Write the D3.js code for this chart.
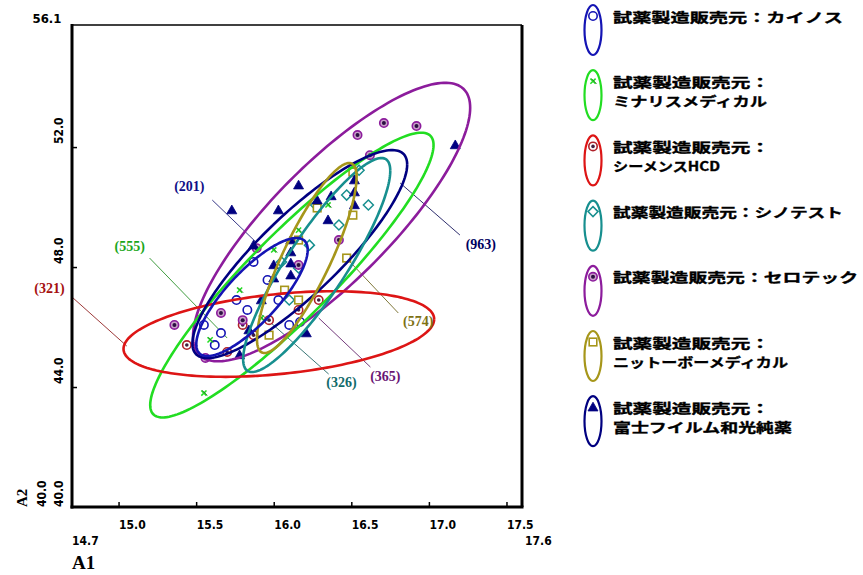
<!DOCTYPE html>
<html>
<head>
<meta charset="utf-8">
<script src="https://cdn.jsdelivr.net/npm/d3@7"></script>
<style>
  html, body { margin: 0; padding: 0; background: #fff; }
  svg { display: block; }
</style>
</head>
<body>
<svg id="chart" width="863" height="575"></svg>
<script>
// ---- data ---------------------------------------------------------------
const makers = ["カイノス", "ミナリスメディカル", "シーメンスHCD", "シノテスト", "セロテック", "ニットーボーメディカル", "富士フイルム和光純薬"];
const counts = [201, 555, 321, 326, 365, 574, 963];

// per-maker scatter values (A1, A2)
const a1Kainos   = [15.55, 15.66, 16.10, 16.17, 15.83, 15.96, 15.87, 15.62, 15.76, 16.03];
const a2Kainos   = [46.07, 45.80, 46.07, 46.17, 46.57, 47.57, 48.17, 45.40, 46.90, 46.90];
const a1Minaris  = [15.55, 15.78, 16.16, 16.00, 15.92, 16.35, 15.59];
const a2Minaris  = [43.80, 47.23, 49.23, 48.57, 46.30, 50.07, 45.57];
const a1Siemens  = [15.87, 15.70, 16.16, 15.97, 15.80, 16.29, 15.44];
const a2Siemens  = [45.73, 45.17, 46.57, 46.23, 46.07, 46.90, 45.40];
const a1Shino    = [16.42, 16.27, 16.61, 16.47, 16.16, 16.05, 16.10, 16.55, 16.23];
const a2Shino    = [49.40, 50.07, 50.07, 50.40, 47.97, 48.17, 46.90, 51.23, 48.73];
const a1Serotec  = [16.71, 16.92, 16.54, 15.36, 15.80, 15.66, 15.89, 16.42, 16.16, 15.56, 16.62];
const a2Serotec  = [52.80, 52.70, 52.40, 46.07, 46.23, 46.47, 48.63, 48.90, 48.07, 44.97, 51.73];
const a1Nittobo  = [16.51, 16.47, 16.16, 16.28, 16.07, 16.16, 16.51, 15.97];
const a2Nittobo  = [51.17, 48.30, 48.90, 49.97, 47.23, 46.90, 49.73, 45.73];
const a1Fuji     = [17.17, 15.73, 16.28, 16.37, 16.52, 16.52, 16.52, 16.11, 16.11, 16.11, 16.11, 16.00, 16.00, 15.92, 16.21, 15.78, 16.35, 16.16, 15.84, 15.87, 16.03];
const a2Fuji     = [52.07, 49.90, 50.23, 50.37, 50.90, 50.50, 50.07, 48.90, 48.50, 48.13, 47.73, 48.07, 47.63, 46.90, 45.80, 45.07, 49.57, 50.73, 45.90, 48.73, 49.90];

// ellipse summaries per maker: centre, spread, correlation
const meanA1 = [15.86, 16.117, 16.033, 16.277, 16.373, 16.213, 16.168];
const meanA2 = [47.00, 47.733, 45.767, 48.067, 49.50, 48.30, 48.433];
const sdA1   = [0.359, 0.913, 1.001, 0.474, 0.893, 0.321, 0.692];
const sdA2   = [1.967, 4.747, 1.427, 3.567, 4.643, 3.167, 3.467];
const corr   = [0.80, 0.913, 0.347, 0.88, 0.821, 0.85, 0.86];

// axis ticks
const xTicks = [15.0, 15.5, 16.0, 16.5, 17.0, 17.5];
const yTicks = [44.0, 48.0, 52.0];
const xDomain = [14.7, 17.6];
const yDomain = [40.0, 56.07];

// ---- look ---------------------------------------------------------------
const colors  = ["#1414b4", "#22dd22", "#dd1515", "#178f8f", "#8c1c9c", "#a6961a", "#000080"];
const shapes  = ["ring", "cross", "dotring", "diamond", "fillring", "square", "triangle"];
const legendLines = [
  ["試薬製造販売元：カイノス"],
  ["試薬製造販売元：", "ミナリスメディカル"],
  ["試薬製造販売元：", "シーメンスHCD"],
  ["試薬製造販売元：シノテスト"],
  ["試薬製造販売元：セロテック"],
  ["試薬製造販売元：", "ニットーボーメディカル"],
  ["試薬製造販売元：", "富士フイルム和光純薬"]
];
const legendWidths = [
  [230], [157, 154], [157, 107], [230], [245], [157, 175], [157, 179]
];

// callout labels: label anchor, line start, line end (data units)
const callouts = [
  {i: 0, at: [15.456, 50.70], from: [15.604, 50.233], to: [15.892, 48.80]},
  {i: 1, at: [15.072, 48.70], from: [15.200, 48.300], to: [15.700, 45.633]},
  {i: 2, at: [14.555, 47.30], from: [14.700, 47.000], to: [15.053, 45.367]},
  {i: 3, at: [16.437, 44.167], from: [16.354, 44.433], to: [15.918, 46.433]},
  {i: 4, at: [16.719, 44.367], from: [16.623, 44.667], to: [16.290, 46.300]},
  {i: 5, at: [16.931, 46.20], from: [16.803, 46.467], to: [16.450, 48.400]},
  {i: 6, at: [17.335, 48.767], from: [17.200, 49.067], to: [16.815, 50.800]}
];

const seriesA1 = [a1Kainos, a1Minaris, a1Siemens, a1Shino, a1Serotec, a1Nittobo, a1Fuji];
const seriesA2 = [a2Kainos, a2Minaris, a2Siemens, a2Shino, a2Serotec, a2Nittobo, a2Fuji];

// ---- layout ------------------------------------------------------------
const plot = {left: 72, right: 522, top: 25, bottom: 507};
const svg = d3.select("#chart");
const x = d3.scaleLinear().domain(xDomain).range([plot.left, plot.right]);
const y = d3.scaleLinear().domain(yDomain).range([plot.bottom, plot.top]);

const numFont = "'Liberation Sans Narrow','DejaVu Sans Condensed','Liberation Sans',sans-serif";
const jpFont = "'Noto Sans CJK JP','Noto Sans CJK SC',sans-serif";
const serifFont = "'Liberation Serif','DejaVu Serif',serif";

// ellipse outline from centre/spread/correlation
function ellipsePoints(k, n = 180) {
  const r = corr[k], q = Math.sqrt(1 - r * r);
  return d3.range(n + 1).map(j => {
    const t = 2 * Math.PI * j / n;
    return [meanA1[k] + sdA1[k] * Math.cos(t),
            meanA2[k] + sdA2[k] * (r * Math.cos(t) + q * Math.sin(t))];
  });
}
const line = d3.line().x(d => x(d[0])).y(d => y(d[1]));

// marker drawing
function drawMarker(g, shape, color, cx, cy) {
  const s = 4.2;
  if (shape === "ring") {
    g.append("circle").attr("cx", cx).attr("cy", cy).attr("r", s)
      .attr("fill", "#fff").attr("stroke", color).attr("stroke-width", 1.6);
  } else if (shape === "cross") {
    const d = 2.6;
    g.append("path").attr("d", `M${cx-d},${cy-d}L${cx+d},${cy+d}M${cx-d},${cy+d}L${cx+d},${cy-d}`)
      .attr("stroke", color).attr("stroke-width", 1.5).attr("fill", "none");
    g.append("path").attr("d", `M${cx-d+1},${cy-d}L${cx+d+1},${cy+d}`)
      .attr("stroke", "#226622").attr("stroke-width", 0.8).attr("fill", "none");
  } else if (shape === "dotring") {
    g.append("circle").attr("cx", cx).attr("cy", cy).attr("r", s)
      .attr("fill", "#fff").attr("stroke", "#b0222a").attr("stroke-width", 1.6);
    g.append("circle").attr("cx", cx).attr("cy", cy).attr("r", 1.8).attr("fill", "#402040");
  } else if (shape === "diamond") {
    const d = 5;
    g.append("path").attr("d", `M${cx},${cy-d}L${cx+d},${cy}L${cx},${cy+d}L${cx-d},${cy}Z`)
      .attr("fill", "#fff").attr("stroke", color).attr("stroke-width", 1.5);
  } else if (shape === "fillring") {
    g.append("circle").attr("cx", cx).attr("cy", cy).attr("r", s)
      .attr("fill", "#c9a0c9").attr("stroke", color).attr("stroke-width", 1.6);
    g.append("circle").attr("cx", cx).attr("cy", cy).attr("r", 2).attr("fill", "#2a1040");
  } else if (shape === "square") {
    const d = 3.8;
    g.append("rect").attr("x", cx - d).attr("y", cy - d).attr("width", 2 * d).attr("height", 2 * d)
      .attr("fill", "#fff").attr("stroke", color).attr("stroke-width", 1.6);
  } else if (shape === "triangle") {
    const d = 5;
    g.append("path").attr("d", `M${cx},${cy-d}L${cx+d},${cy+d*0.75}L${cx-d},${cy+d*0.75}Z`)
      .attr("fill", color).attr("stroke", color).attr("stroke-width", 0.8);
  }
}

// ---- plot body ------------------------------------------------------------
const body = svg.append("g");

// callout leader lines
callouts.forEach(c => {
  body.append("line")
    .attr("x1", x(c.from[0])).attr("y1", y(c.from[1]))
    .attr("x2", x(c.to[0])).attr("y2", y(c.to[1]))
    .attr("stroke", d3.interpolateRgb(colors[c.i], "#333")(0.45))
    .attr("stroke-width", 0.9);
});

// points
seriesA1.forEach((xs, k) => {
  const g = body.append("g");
  xs.forEach((v, j) => drawMarker(g, shapes[k], colors[k], x(v), y(seriesA2[k][j])));
});

// ellipses (largest first so smaller ones stay visible)
const order = [4, 1, 2, 6, 3, 5, 0];
order.forEach(k => {
  body.append("path")
    .attr("d", line(ellipsePoints(k)))
    .attr("fill", "none")
    .attr("stroke", colors[k])
    .attr("stroke-width", 2.6);
});

// callout labels
callouts.forEach(c => {
  body.append("text")
    .attr("x", x(c.at[0])).attr("y", y(c.at[1]))
    .attr("dy", "0.35em")
    .attr("text-anchor", "middle")
    .attr("font-family", serifFont)
    .attr("font-weight", "bold")
    .attr("font-size", 14)
    .attr("fill", d3.interpolateRgb(colors[c.i], "#000")(0.25))
    .text(`(${counts[c.i]})`);
});

// ---- frame and axes ------------------------------------------------------
const frame = svg.append("g").attr("fill", "none").attr("stroke", "#000");
frame.append("line").attr("x1", plot.left).attr("x2", plot.right).attr("y1", plot.top).attr("y2", plot.top).attr("stroke-width", 1.5);
frame.append("line").attr("x1", plot.right).attr("x2", plot.right).attr("y1", plot.top).attr("y2", plot.bottom).attr("stroke-width", 3);
frame.append("line").attr("x1", plot.left).attr("x2", plot.left).attr("y1", plot.top - 1).attr("y2", plot.bottom + 1.5).attr("stroke-width", 3);
frame.append("line").attr("x1", plot.left - 1.5).attr("x2", plot.right + 1.5).attr("y1", plot.bottom).attr("y2", plot.bottom).attr("stroke-width", 3);

// x axis ticks and labels
const xAxis = svg.append("g").attr("transform", `translate(0,${plot.bottom})`)
  .call(d3.axisBottom(x).tickValues(xTicks).tickSize(-5).tickPadding(13).tickFormat(d3.format(".1f")));
xAxis.select(".domain").remove();
xAxis.selectAll(".tick line").attr("stroke", "#000").attr("stroke-width", 1.5);
xAxis.selectAll(".tick text")
  .attr("text-anchor", "start")
  .attr("font-family", numFont).attr("font-weight", "bold").attr("font-size", 12).attr("fill", "#000");

// y axis ticks and labels (rotated)
const yAxis = svg.append("g").attr("transform", `translate(${plot.left},0)`)
  .call(d3.axisLeft(y).tickValues(yTicks).tickSize(-5).tickFormat(""));
yAxis.select(".domain").remove();
yAxis.selectAll(".tick line").attr("stroke", "#000").attr("stroke-width", 1.5);
yTicks.forEach(v => {
  svg.append("text")
    .attr("transform", `translate(63,${y(v) - 3}) rotate(-90)`)
    .attr("text-anchor", "start")
    .attr("font-family", numFont).attr("font-weight", "bold").attr("font-size", 12)
    .text(d3.format(".1f")(v));
});

// range end labels
const fmt = d3.format(".1f");
svg.append("text").attr("x", plot.left).attr("y", 545)
  .attr("font-family", numFont).attr("font-weight", "bold").attr("font-size", 12).text(fmt(xDomain[0]));
svg.append("text").attr("x", plot.right + 3).attr("y", 545)
  .attr("font-family", numFont).attr("font-weight", "bold").attr("font-size", 12).text(fmt(xDomain[1]));
svg.append("text").attr("x", plot.left).attr("y", 569)
  .attr("font-family", serifFont).attr("font-weight", "bold").attr("font-size", 19).text("A1");

svg.append("text").attr("transform", `translate(63,${plot.bottom}) rotate(-90)`)
  .attr("font-family", numFont).attr("font-weight", "bold").attr("font-size", 12).text(fmt(yDomain[0]));
svg.append("text").attr("transform", `translate(46,${plot.bottom}) rotate(-90)`)
  .attr("font-family", numFont).attr("font-weight", "bold").attr("font-size", 12).text(fmt(yDomain[0]));
svg.append("text").attr("transform", `translate(27,${plot.bottom}) rotate(-90)`)
  .attr("font-family", serifFont).attr("font-weight", "bold").attr("font-size", 15).text("A2");
svg.append("text").attr("x", 47).attr("y", 23).attr("text-anchor", "middle")
  .attr("font-family", numFont).attr("font-weight", "bold").attr("font-size", 13).text(fmt(yDomain[1]));

// ---- legend ----------------------------------------------------------------
const legend = svg.append("g");
makers.forEach((m, k) => {
  const cy = 30 + 65.2 * k;
  const g = legend.append("g");
  g.append("ellipse").attr("cx", 593).attr("cy", cy).attr("rx", 8.5).attr("ry", 25)
    .attr("fill", "none").attr("stroke", colors[k]).attr("stroke-width", 2.2);
  drawMarker(g, shapes[k], colors[k], 593, cy - 14);
  legendLines[k].forEach((txt, j) => {
    g.append("text")
      .attr("x", 613).attr("y", cy - 13 + j * 19).attr("dy", "0.36em")
      .attr("font-family", jpFont).attr("font-weight", "bold").attr("font-size", 13)
      .attr("textLength", legendWidths[k][j]).attr("lengthAdjust", "spacingAndGlyphs")
      .attr("fill", "#000").attr("stroke", "#000").attr("stroke-width", 0.35)
      .text(txt);
  });
});
</script>
</body>
</html>
